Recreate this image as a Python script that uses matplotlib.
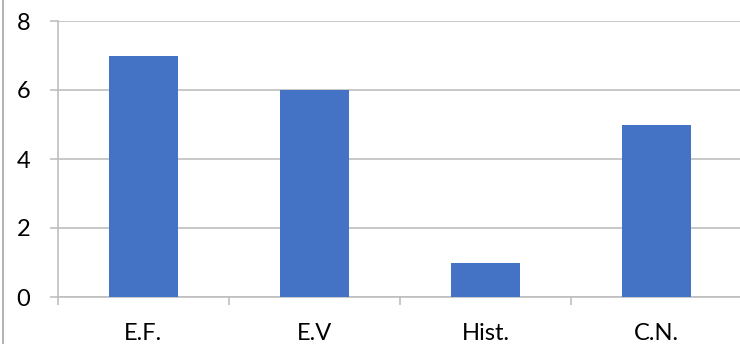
import matplotlib
matplotlib.use("Agg")
import matplotlib.pyplot as plt
from matplotlib.lines import Line2D
import numpy as np

categories = ["E.F.", "E.V", "Hist.", "C.N."]
values = [7, 6, 1, 5]
yticks = [0, 2, 4, 6, 8]

plt.rcParams['font.family'] = ['Lato', 'DejaVu Sans']

W, H = 740, 344
fig = plt.figure(figsize=(W/100, H/100), dpi=100)
ax = fig.add_axes([58/W, 47/H, 684/W, 276/H])

x = np.arange(len(categories))
ax.bar(x, values, width=0.4, color="#4472C4", zorder=3)
ax.set_xlim(-0.5, len(categories) - 0.5)
ax.set_ylim(0, 8)
ax.set_yticks(yticks)
ax.set_yticklabels([str(v) for v in yticks])
ax.yaxis.grid(True, color="#BFBFBF", linewidth=1.2, zorder=0)

ax.set_xticks(x)
ax.set_xticklabels(categories)
ax.set_xticks(np.arange(-0.5, len(categories)), minor=True)
ax.tick_params(axis="x", which="major", length=0, labelsize=17, pad=18.5)
ax.tick_params(axis="x", which="minor", length=6, width=1.2, color="#BFBFBF", direction="out")
ax.tick_params(axis="y", length=6, width=1.2, color="#BFBFBF", labelsize=17, pad=14)

for s in ["top", "right"]:
    ax.spines[s].set_visible(False)
for s in ["left", "bottom"]:
    ax.spines[s].set_color("#BFBFBF")
    ax.spines[s].set_linewidth(1.2)

fig.add_artist(Line2D([2.5/W, 2.5/W], [0, 1], color="#A6A6A6", linewidth=1.2))

fig.savefig("out.png", dpi=100)
